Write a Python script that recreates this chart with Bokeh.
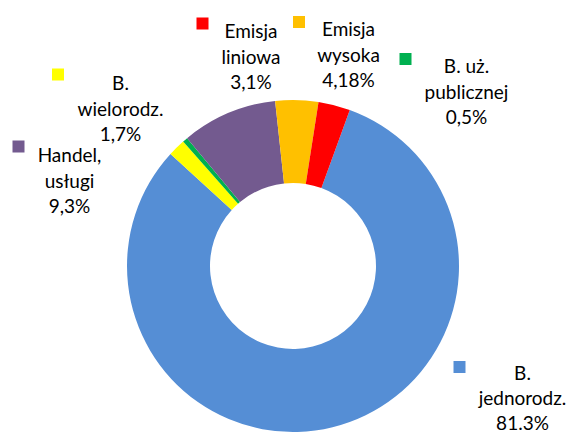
import numpy as np
import pandas as pd
from bokeh.plotting import figure
from bokeh.models import ColumnDataSource, Range1d
from bokeh.core.properties import value
from bokeh.embed import file_html
from bokeh.resources import INLINE

# ---- data (clockwise order starting from the first slice) ----
categories = ["B.\njednorodz.", "B.\nwielorodz.", "B. uż.\npublicznej", "Handel,\nusługi",
              "Emisja\nwysoka", "Emisja\nliniowa"]
shares = [81.3, 1.7, 0.5, 9.3, 4.18, 3.1]
share_labels = ["81.3%", "1,7%", "0,5%", "9,3%", "4,18%", "3,1%"]
colors = ["#558ED5", "#FFFF00", "#00B050", "#735A8F", "#FFC000", "#FF0000"]

# ---- layout (image pixel coordinates, y measured downward) ----
W, H = 568, 436
cx, cy = 292.5, 265.5
r_out, r_in = 166, 83
first_angle_deg = 70.0  # first slice starts 20 deg clockwise from top

# label anchors: (text center x, first-line baseline y, marker x, marker y, line spacing)
label_pos = [
    (522, 372, 459, 366.5, 25),
    (120, 82, 57.5, 74, 25.5),
    (466, 65, 405, 58.5, 25.5),
    (69, 154, 18, 146, 25.5),
    (348, 28, 298.5, 21.5, 25.5),
    (250.5, 30, 202, 23, 25.5),
]

def fy(y):
    return H - y

df = pd.DataFrame({"cat": categories, "share": shares, "color": colors})
frac = df["share"] / df["share"].sum()
cum = frac.cumsum()
df["start"] = np.deg2rad(first_angle_deg) - (cum - frac) * 2 * np.pi
df["end"] = np.deg2rad(first_angle_deg) - cum * 2 * np.pi
df["x"] = cx
df["y"] = fy(cy)

p = figure(width=W, height=H, output_backend="svg", toolbar_location=None,
           x_range=Range1d(0, W), y_range=Range1d(0, H),
           x_axis_location=None, y_axis_location=None, min_border=0)
p.grid.visible = False
p.outline_line_color = None
p.background_fill_color = "white"
p.border_fill_color = "white"

p.annular_wedge(x="x", y="y", inner_radius=r_in, outer_radius=r_out,
                start_angle="start", end_angle="end", direction="clock",
                fill_color="color", line_color=None, source=ColumnDataSource(df))

# labels
tx, ty, tt = [], [], []
mx, my, mc = [], [], []
for cat, lab, col, (lx, ly, sx, sy, lh) in zip(categories, share_labels, colors, label_pos):
    lines = cat.split("\n") + [lab]
    for i, ln in enumerate(lines):
        tx.append(lx)
        ty.append(fy(ly + i * lh))
        tt.append(ln)
    mx.append(sx)
    my.append(fy(sy))
    mc.append(col)

p.scatter(x=mx, y=my, marker="square", size=12, fill_color=mc, line_color=None)
p.text(x=tx, y=ty, text=tt, text_align="center", text_baseline="alphabetic",
       text_font=value("Lato"), text_font_size="19px", text_color="#000000")

open("out.html", "w").write(file_html(p, INLINE))
